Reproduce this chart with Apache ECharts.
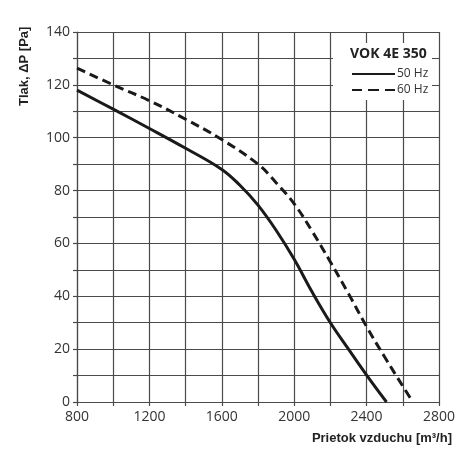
<!DOCTYPE html>
<html>
<head>
<meta charset="utf-8">
<script src="https://cdn.jsdelivr.net/npm/echarts@6/dist/echarts.min.js"></script>
<style>
  html, body { margin: 0; padding: 0; background: #fff; }
  #chart { width: 470px; height: 470px; }
</style>
</head>
<body>
<div id="chart"></div>
<script>
// airflow [m3/h] vs pressure [Pa]
var flow50 = [800, 1000, 1200, 1400, 1600, 1700, 1800, 1900, 2000, 2100, 2200, 2300, 2400, 2510];
var press50 = [118, 110.8, 103.5, 96, 88, 82, 74.5, 65, 54, 41.5, 30, 20, 10.2, 0];
var flow60 = [800, 1000, 1200, 1400, 1600, 1800, 1900, 2000, 2100, 2200, 2300, 2400, 2500, 2600, 2655];
var press60 = [126.3, 120, 114, 107, 99.3, 90, 83, 75, 64.5, 53, 41, 28.5, 17, 6, 0];

var seriesNames = ['50 Hz', '60 Hz'];
var modelName = 'VOK 4E 350';
var xTitle = 'Prietok vzduchu [m³/h]';
var yTitle = 'Tlak, ΔP [Pa]';

var gridColor = '#4a4a4a';
var textColor = '#333';
var fontFamily = '"Open Sans", "Noto Sans", sans-serif';
var titleFont = '"Liberation Sans", Arial, sans-serif';

// legend icons: plain line and three dashes
var solidIcon = 'path://M0,0h43v2h-43z';
var dashIcon = 'path://M0,0h10v2h-10z M16,0h11v2h-11z M33,0h10v2h-10z';

function pairs(xs, ys) {
  var out = [];
  for (var i = 0; i < xs.length; i++) {
    out.push([xs[i], ys[i]]);
  }
  return out;
}

var dom = document.getElementById('chart');
var myChart = echarts.init(dom, null, { renderer: 'canvas' });

var option = {
  animation: false,
  backgroundColor: '#fff',
  grid: { left: 77, right: 31, top: 32, bottom: 68 },
  xAxis: {
    type: 'value',
    min: 800,
    max: 2800,
    interval: 200,
    axisLine: { lineStyle: { color: gridColor, width: 1.2 } },
    axisTick: { show: true, length: 4, lineStyle: { color: gridColor, width: 1.2 } },
    splitLine: { show: true, lineStyle: { color: gridColor, width: 1.2 } },
    axisLabel: {
      color: textColor,
      fontFamily: fontFamily,
      fontSize: 14,
      margin: 8,
      formatter: function (v) { return v % 400 === 0 ? String(v) : ''; }
    }
  },
  yAxis: {
    type: 'value',
    min: 0,
    max: 140,
    interval: 10,
    axisLine: { show: true, lineStyle: { color: gridColor, width: 1.2 } },
    axisTick: { show: true, length: 4, lineStyle: { color: gridColor, width: 1.2 } },
    splitLine: { show: true, lineStyle: { color: gridColor, width: 1.2 } },
    axisLabel: {
      color: textColor,
      fontFamily: fontFamily,
      fontSize: 14,
      margin: 7,
      formatter: function (v) { return v % 20 === 0 ? String(v) : ''; }
    }
  },
  legend: {
    orient: 'vertical',
    left: 352,
    top: 66,
    itemWidth: 43,
    itemHeight: 2,
    itemGap: 0,
    padding: 0,
    z: 6,
    textStyle: { color: textColor, fontFamily: fontFamily, fontSize: 12, lineHeight: 16, padding: [0, 0, 0, -3] },
    data: [
      { name: seriesNames[0], icon: solidIcon },
      { name: seriesNames[1], icon: dashIcon }
    ]
  },
  graphic: [
    {
      type: 'rect',
      left: 333,
      top: 43,
      shape: { width: 99, height: 57 },
      style: { fill: '#fff' },
      z: 3
    },
    {
      type: 'text',
      left: 350,
      top: 47,
      style: {
        text: modelName,
        fill: '#222',
        font: 'bold 14px ' + fontFamily
      },
      z: 5
    },
    {
      type: 'text',
      right: 18,
      top: 432,
      style: {
        text: xTitle,
        fill: '#222',
        font: 'bold 13px ' + titleFont
      }
    },
    {
      type: 'text',
      x: 18,
      y: 106,
      rotation: Math.PI / 2,
      style: {
        text: yTitle,
        fill: '#222',
        font: 'bold 13px ' + titleFont,
        align: 'left',
        verticalAlign: 'top'
      }
    }
  ],
  series: [
    {
      name: seriesNames[0],
      type: 'line',
      smooth: 0.4,
      symbol: 'none',
      lineStyle: { color: '#1a1a1a', width: 3 },
      itemStyle: { color: '#1a1a1a' },
      data: pairs(flow50, press50),
      z: 10
    },
    {
      name: seriesNames[1],
      type: 'line',
      smooth: 0.4,
      symbol: 'none',
      lineStyle: { color: '#1a1a1a', width: 3, type: [9, 5] },
      itemStyle: { color: '#1a1a1a' },
      data: pairs(flow60, press60),
      z: 10
    }
  ]
};

myChart.setOption(option);
window.addEventListener('resize', myChart.resize);
</script>
</body>
</html>
